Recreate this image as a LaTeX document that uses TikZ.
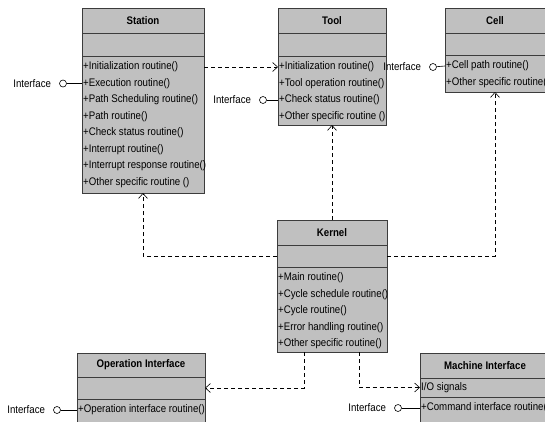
\documentclass[tikz,border=0pt]{standalone}
\usepackage{fontspec}
\setmainfont{Liberation Sans}[FakeStretch=0.88]
\usetikzlibrary{arrows.meta,positioning}

\definecolor{umlgray}{RGB}{192,192,192}
\definecolor{umledge}{RGB}{60,60,60}

\tikzset{
  part/.style={draw=umledge, line width=0.8pt, fill=umlgray, inner sep=0pt, outer sep=0pt},
  head/.style={part, minimum height=25pt, font=\fontsize{11}{12}\selectfont\bfseries},
  row/.style={anchor=west, inner sep=1pt, font=\fontsize{11}{12}\selectfont},
  iftext/.style={inner sep=0pt, font=\fontsize{11}{12}\selectfont},
  lolly/.style={circle, draw, line width=0.6pt, fill=white, inner sep=0pt, minimum size=7pt,
    label={[iftext, label distance=8pt]left:Interface}},
  wire/.style={line width=0.6pt},
  dep/.style={dash pattern=on 4pt off 3pt, line width=0.6pt, -{Straight Barb[length=5pt,width=9pt]}}
}

\begin{document}
\begin{tikzpicture}[x=1pt,y=-1pt]
\useasboundingbox (0,0) rectangle (545,421);
\clip (0,0) rectangle (545,421);

% Station
\node[head, minimum width=122pt] (station) at (143,20.5) {Station};
\node[part, minimum width=122pt, minimum height=23pt, below=0pt of station] (station-attr) {};
\node[part, minimum width=122pt, minimum height=137pt, below=0pt of station-attr] (station-ops) {};
\foreach \t [count=\i] in {+Initialization routine(), +Execution routine(),
    +Path Scheduling routine(), +Path routine(), +Check status  routine(),
    +Interrupt routine(), +Interrupt response routine(), +Other specific routine ()}
  \node[row] (station-\i) at (82,50.5+16.5*\i) {\t};

% Tool
\node[head, minimum width=108pt] (tool) at (332,20.5) {Tool};
\node[part, minimum width=108pt, minimum height=23pt, below=0pt of tool] (tool-attr) {};
\node[part, minimum width=108pt, minimum height=69pt, below=0pt of tool-attr] (tool-ops) {};
\foreach \t [count=\i] in {+Initialization routine(), +Tool operation routine(),
    +Check status routine(), +Other specific routine ()}
  \node[row] (tool-\i) at (278,50.5+16.5*\i) {\t};

% Cell
\node[head, minimum width=100pt] (cell) at (495,20.5) {Cell};
\node[part, minimum width=100pt, minimum height=22pt, below=0pt of cell] (cell-attr) {};
\node[part, minimum width=100pt, minimum height=37pt, below=0pt of cell-attr] (cell-ops) {};
\foreach \t [count=\i] in {+Cell path routine(), +Other specific routine()}
  \node[row] (cell-\i) at (445,49.5+16.5*\i) {\t};

% Kernel
\node[head, minimum width=110pt] (kernel) at (332,232.5) {Kernel};
\node[part, minimum width=110pt, minimum height=22pt, below=0pt of kernel] (kernel-attr) {};
\node[part, minimum width=110pt, minimum height=85pt, below=0pt of kernel-attr] (kernel-ops) {};
\foreach \t [count=\i] in {+Main routine(), +Cycle schedule routine(), +Cycle routine(),
    +Error handling routine(), +Other specific routine()}
  \node[row] (kernel-\i) at (277,261.5+16.5*\i) {\t};

% Operation Interface
\node[head, minimum width=128pt, minimum height=24pt] (oper) at (141,365) {Operation Interface};
\node[part, minimum width=128pt, minimum height=22pt, below=0pt of oper] (oper-attr) {};
\node[part, minimum width=128pt, minimum height=31pt, below=0pt of oper-attr] (oper-ops) {};
\node[row] (oper-1) at (77,410) {+Operation interface routine()};

% Machine Interface
\node[head, minimum width=130pt] (mach) at (485,365.5) {Machine Interface};
\node[part, minimum width=130pt, minimum height=19pt, below=0pt of mach] (mach-io) {};
\node[part, minimum width=130pt, minimum height=33pt, below=0pt of mach-io] (mach-ops) {};
\node[row] (mach-sig) at (mach-io.west) {I/O signals};
\node[row] (mach-1) at (420,408) {+Command interface routine()};

% interfaces
\node[lolly] (station-if) at (63,83.5) {};
\node[lolly] (tool-if) at (263,100) {};
\node[lolly] (cell-if) at (433,67) {};
\node[lolly] (oper-if) at (57,410) {};
\node[lolly] (mach-if) at (398,408) {};
\draw[wire] (station-if) -- (station-2.west);
\draw[wire] (tool-if) -- (tool-3.west);
\draw[wire] (cell-if) -- (cell-1.west);
\draw[wire] (oper-if) -- (oper-1.west);
\draw[wire] (mach-if) -- (mach-1.west);

% dependencies
\draw[dep] (station-ops.east |- tool-1.west) -- (tool-1.west);
\draw[dep] (kernel.north) -- (tool-ops.south);
\draw[dep] (kernel-attr.west) -| (station-ops.south);
\draw[dep] (kernel-attr.east) -| (cell-ops.south);
\draw[dep] ([xshift=-28pt]kernel-ops.south) |- (oper-attr.east);
\draw[dep] ([xshift=27pt]kernel-ops.south) |- (mach-io.west);

\end{tikzpicture}
\end{document}
